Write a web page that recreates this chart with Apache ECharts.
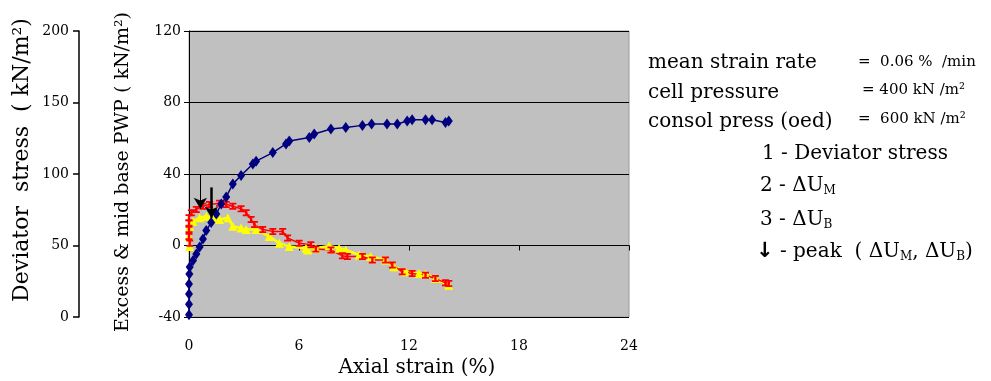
<!DOCTYPE html>
<html>
<head>
<meta charset="utf-8">
<script src="https://cdn.jsdelivr.net/npm/echarts@6/dist/echarts.min.js"></script>
<style>
  html, body { margin: 0; padding: 0; background: #fff; }
  #chart { width: 991px; height: 381px; }
</style>
</head>
<body>
<div id="chart"></div>
<script>
// axial strain (%) / deviator stress (kN/m2)
var devStrain = [0, 0, 0, 0, 0.02, 0.04, 0.22, 0.4, 0.58, 0.76, 0.94, 1.21, 1.49, 1.76, 2.03, 2.39, 2.84, 3.48, 3.66, 4.57, 5.29, 5.47, 6.56, 6.83, 7.74, 8.55, 9.46, 9.96, 10.8, 11.36, 11.9, 12.17, 12.9, 13.26, 13.99, 14.17];
var devStress = [1.5, 9, 16, 23, 30, 35, 39.5, 44, 49, 54.5, 60.5, 66, 72, 79, 84, 93, 99, 107, 109, 115, 121, 123, 125.5, 128, 131.5, 132.5, 134, 135, 135, 135, 137, 138, 138, 138, 136, 137];
// mid height pore pressure (2 - dUM)
var umStrain = [0.04, 0, 0, 0, 0, 0.13, 0.4, 0.76, 1.12, 1.67, 2.03, 2.39, 2.84, 3.12, 3.39, 3.57, 4.02, 4.57, 5.11, 5.38, 6.01, 6.65, 6.92, 7.74, 8.37, 8.64, 9.46, 10.0, 10.72, 11.09, 11.63, 12.17, 12.9, 13.44, 13.99, 14.17];
var umPwp = [1.3, 5, 9, 12.6, 15.5, 18.3, 20.2, 22, 23, 23.6, 23, 22, 20.6, 18.3, 14.5, 11.7, 8.9, 7.9, 7.9, 4.2, 1.3, 0.4, -2, -2.5, -5.8, -6.2, -6.2, -8.1, -8.1, -10.9, -14.7, -15.7, -16.6, -18.5, -20.9, -21.3];
// base pore pressure (3 - dUB)
var ubStrain = [0.04, 0, 0.04, 0.22, 0.58, 0.94, 1.3, 1.67, 2.12, 2.39, 2.84, 3.12, 3.66, 4.38, 4.93, 5.47, 6.38, 6.47, 6.92, 7.64, 8.19, 8.55, 9.28, 9.91, 10.72, 11.18, 11.81, 12.54, 12.9, 13.44, 14.17];
var ubPwp = [-0.6, 5.1, 10.7, 13.6, 15.5, 16.4, 15.5, 14.5, 15.5, 10.7, 9.8, 8.9, 8.9, 5.1, 1.3, -0.6, -1.5, -2.5, -1.5, -0.2, -1.5, -2.5, -5.3, -6.2, -8.1, -11.9, -14.7, -15.7, -16, -18.5, -22.3];
// peak arrows: strain, from, to
var peakM = [0.62, 40, 20.5];
var peakB = [1.22, 32.5, 15.5];

var xTicks = [0, 24, 6];
var pwpTicks = [-40, 120, 40];
var devTicks = [0, 200, 50];

function pairs(xs, ys) {
    var out = [];
    for (var i = 0; i < xs.length; i++) out.push([xs[i], ys[i]]);
    return out;
}

var serif = 'DejaVu Serif';
var big = '20px ' + serif, small = '15px ' + serif, sub = '12px ' + serif;
var subRich = { t: { font: big, fill: '#000' }, s: { font: sub, fill: '#000', padding: [9, 0, 0, 0] } };
var myChart = echarts.init(document.getElementById('chart'));

var option = {
    animation: false,
    grid: {
        left: 189, right: 362, top: 31, bottom: 64,
        outerBoundsMode: 'none', containLabel: false,
        show: true, backgroundColor: '#c0c0c0', borderColor: '#9a9a9a', borderWidth: 1
    },
    xAxis: {
        type: 'value', min: xTicks[0], max: xTicks[1], interval: xTicks[2],
        name: 'Axial strain (%)', nameLocation: 'middle', nameGap: 41,
        nameTextStyle: { fontFamily: serif, fontSize: 20, color: '#000', padding: [0, 0, 0, 16] },
        axisLine: { lineStyle: { color: '#000', width: 1 } },
        axisTick: { length: 5, lineStyle: { color: '#000' } },
        axisLabel: { margin: 22, fontFamily: serif, fontSize: 14, color: '#000' },
        splitLine: { show: false }
    },
    yAxis: [{
        type: 'value', min: pwpTicks[0], max: pwpTicks[1], interval: pwpTicks[2],
        axisLine: { show: true, lineStyle: { color: '#000', width: 1 } },
        axisTick: { show: true, length: 5, lineStyle: { color: '#000' } },
        axisLabel: { margin: 8, fontFamily: serif, fontSize: 14, color: '#000' },
        splitLine: { show: true, lineStyle: { color: '#000', width: 1 } }
    }, {
        type: 'value', position: 'left', offset: 110,
        min: devTicks[0], max: devTicks[1], interval: devTicks[2],
        axisLine: { show: true, onZero: false, lineStyle: { color: '#000', width: 1.5 } },
        axisTick: { show: true, length: 6, lineStyle: { color: '#000', width: 1.5 } },
        axisLabel: { margin: 10, fontFamily: serif, fontSize: 14, color: '#000' },
        splitLine: { show: false }
    }],
    series: [{
        name: '3 - dUB', type: 'line', yAxisIndex: 0,
        data: pairs(ubStrain, ubPwp),
        symbol: 'triangle', symbolSize: 9, itemStyle: { color: '#ffff00' },
        lineStyle: { color: '#ffff00', width: 2.5 }
    }, {
        name: '2 - dUM', type: 'line', yAxisIndex: 0,
        data: pairs(umStrain, umPwp),
        symbol: 'path://M0,0H6V1.5H4V4.5H6V6H0V4.5H2V1.5H0Z', symbolSize: 7,
        itemStyle: { color: '#ff0000' },
        lineStyle: { color: '#ff0000', width: 1.5 },
        markLine: {
            silent: true, symbol: ['none', 'arrow'], symbolSize: [10, 11],
            label: { show: false },
            data: [
                [{ coord: [peakM[0], peakM[1]], lineStyle: { width: 1 } }, { coord: [peakM[0], peakM[2]] }],
                [{ coord: [peakB[0], peakB[1]], lineStyle: { width: 2.5 } }, { coord: [peakB[0], peakB[2]] }]
            ],
            lineStyle: { color: '#000', type: 'solid' }
        }
    }, {
        name: '1 - Deviator stress', type: 'line', yAxisIndex: 1,
        data: pairs(devStrain, devStress),
        symbol: 'diamond', symbolSize: [8, 11], itemStyle: { color: '#000080' },
        lineStyle: { color: '#000080', width: 1.5 }
    }],
    graphic: [
        { type: 'text', x: 22, y: 160, rotation: Math.PI / 2,
          style: { text: 'Deviator  stress  ( kN/m\u00b2)', font: '22px ' + serif, fill: '#000', align: 'center', verticalAlign: 'middle' } },
        { type: 'text', x: 123, y: 172, rotation: Math.PI / 2,
          style: { text: 'Excess & mid base PWP ( kN/m\u00b2)', font: '19px ' + serif, fill: '#000', align: 'center', verticalAlign: 'middle' } },
        // test conditions
        { type: 'text', x: 648, y: 63, style: { text: 'mean strain rate', font: big, fill: '#000', verticalAlign: 'middle' } },
        { type: 'text', x: 858, y: 62, style: { text: '=  0.06 %  /min', font: small, fill: '#000', verticalAlign: 'middle' } },
        { type: 'text', x: 648, y: 93, style: { text: 'cell pressure', font: big, fill: '#000', verticalAlign: 'middle' } },
        { type: 'text', x: 862, y: 90, style: { text: '= 400 kN /m\u00b2', font: small, fill: '#000', verticalAlign: 'middle' } },
        { type: 'text', x: 648, y: 122, style: { text: 'consol press (oed)', font: big, fill: '#000', verticalAlign: 'middle' } },
        { type: 'text', x: 858, y: 119, style: { text: '=  600 kN /m\u00b2', font: small, fill: '#000', verticalAlign: 'middle' } },
        // legend
        { type: 'text', x: 762, y: 154, style: { text: '1 - Deviator stress', font: big, fill: '#000', verticalAlign: 'middle' } },
        { type: 'text', x: 760, y: 186, style: { text: '{t|2 - \u0394U}{s|M}', verticalAlign: 'middle', fill: '#000', rich: subRich } },
        { type: 'text', x: 760, y: 220, style: { text: '{t|3 - \u0394U}{s|B}', verticalAlign: 'middle', fill: '#000', rich: subRich } },
        { type: 'text', x: 756, y: 252, style: {
            text: '{a|\u2193}{t| - peak  ( \u0394U}{s|M}{t|, \u0394U}{s|B}{t|)}', verticalAlign: 'middle', fill: '#000',
            rich: { a: { font: 'bold 21px DejaVu Sans', fill: '#000' }, t: subRich.t, s: subRich.s } } }
    ]
};
myChart.setOption(option);
</script>
</body>
</html>
